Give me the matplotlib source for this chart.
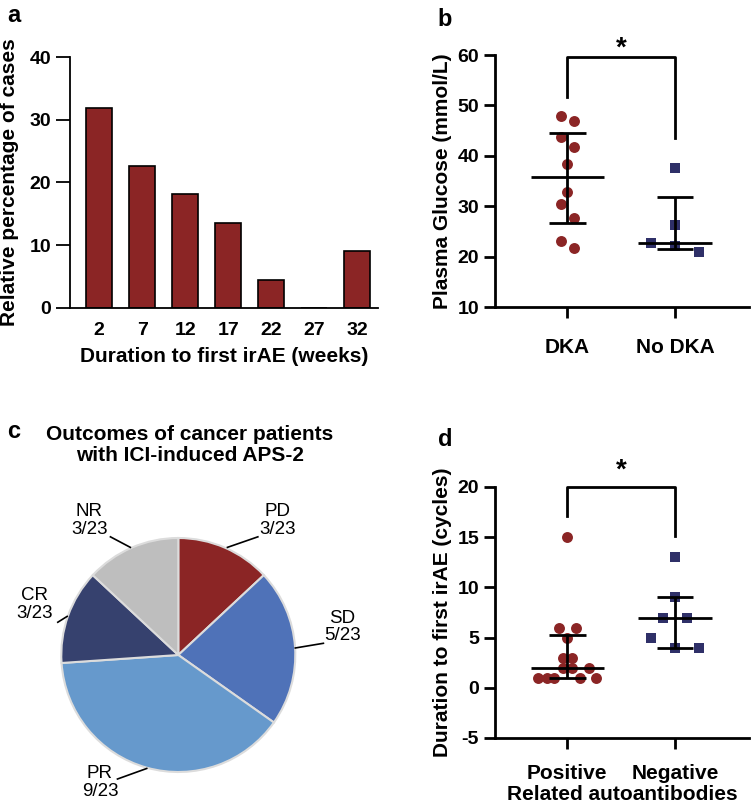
import numpy as np
import matplotlib
matplotlib.use('Agg')
import matplotlib.pyplot as plt

plt.rcParams['font.family'] = ['Liberation Sans', 'DejaVu Sans']
plt.rcParams['font.weight'] = 'bold'
plt.rcParams['axes.unicode_minus'] = False

# ── Data ──────────────────────────────────────────────────
weeks = ['2', '7', '12', '17', '22', '27', '32']
pct_cases = [31.8, 22.7, 18.2, 13.6, 4.5, 0.0, 9.1]

groups_b = ['DKA', 'No DKA']
glucose_dka = [47.9, 46.9, 43.8, 41.8, 38.4, 32.8, 30.4, 27.6, 23.1, 21.8]
jitter_dka = [-0.06, 0.06, -0.06, 0.06, 0.0, 0.0, -0.06, 0.06, -0.06, 0.06]
glucose_nodka = [37.6, 26.2, 22.7, 22.2, 21.0]
jitter_nodka = [0.0, 0.0, -0.22, 0.0, 0.22]
glucose_center = [35.7, 22.7]
glucose_low = [26.6, 21.5]
glucose_high = [44.6, 31.9]

outcomes = ['PD', 'SD', 'PR', 'CR', 'NR']
outcome_n = [3, 5, 9, 3, 3]
outcome_total = 23

groups_d = ['Positive', 'Negative']
cycles_pos = [15, 6, 6, 5, 3, 3, 2, 2, 2, 1, 1, 1, 1, 1]
jitter_pos = [0.0, -0.08, 0.08, 0.0, -0.04, 0.04, -0.04, 0.04, 0.2,
              -0.27, -0.19, -0.12, 0.12, 0.27]
cycles_neg = [13, 9, 7, 7, 5, 4, 4]
jitter_neg = [0.0, 0.0, -0.11, 0.11, -0.22, 0.0, 0.22]
cycles_center = [2, 7]
cycles_low = [1, 4]
cycles_high = [5.25, 9]

RED = '#8b2525'
NAVY = '#2f3068'
pie_colors = ['#8b2525', '#4f72b8', '#6699cc', '#36416e', '#bebebe']

fig = plt.figure(figsize=(7.51, 8.10), dpi=100)
W, H = 751, 810


def px_axes(l, t, r, b):
    return fig.add_axes([l / W, 1 - b / H, (r - l) / W, (b - t) / H])


def style(ax, lw=2):
    for s in ['top', 'right']:
        ax.spines[s].set_visible(False)
    for s in ['left', 'bottom']:
        ax.spines[s].set_linewidth(lw)
    ax.tick_params(width=lw, length=8, labelsize=14)
    for lab in ax.get_xticklabels() + ax.get_yticklabels():
        lab.set_fontweight('bold')


# ── a: bar chart ──────────────────────────────────────────
ax = px_axes(70, 57, 378, 308)
x = np.arange(len(weeks))
ax.bar(x, pct_cases, width=0.6, color=RED, edgecolor='black', linewidth=1.2)
ax.set_xlim(-0.674, 6.48)
ax.set_ylim(0, 40)
ax.set_yticks([0, 10, 20, 30, 40])
ax.set_xticks(x)
ax.set_xticklabels(weeks)
style(ax, lw=1.3)
ax.tick_params(axis='x', length=0, pad=10)
ax.tick_params(axis='y', length=10)
ax.set_xlabel('Duration to first irAE (weeks)', fontsize=15, fontweight='bold', labelpad=6)
ax.set_ylabel('Relative percentage of cases', fontsize=15, fontweight='bold', labelpad=8)


def dot_panel(ax, vals_list, jit_list, centers, lows, highs, markers, colors):
    for i, (vals, jit) in enumerate(zip(vals_list, jit_list)):
        ax.scatter(np.array(jit) + i, vals, s=62, marker=markers[i], color=colors[i],
                   zorder=2, linewidths=0)
    pos = np.arange(len(centers))
    ax.hlines(centers, pos - 0.34, pos + 0.34, color='black', lw=2, zorder=3)
    ax.hlines(lows, pos - 0.17, pos + 0.17, color='black', lw=2, zorder=3)
    ax.hlines(highs, pos - 0.17, pos + 0.17, color='black', lw=2, zorder=3)
    ax.vlines(pos, lows, highs, color='black', lw=2, zorder=3)


# ── b: glucose ────────────────────────────────────────────
ax = px_axes(495, 55, 749, 307)
dot_panel(ax, [glucose_dka, glucose_nodka], [jitter_dka, jitter_nodka],
          glucose_center, glucose_low, glucose_high, ['o', 's'], [RED, NAVY])
ax.set_xlim(-0.671, 1.687)
ax.set_ylim(10, 60)
ax.set_yticks([10, 20, 30, 40, 50, 60])
ax.set_xticks([0, 1])
ax.set_xticklabels(groups_b)
style(ax)
ax.tick_params(axis='x', pad=14, labelsize=15)
ax.set_ylabel('Plasma Glucose (mmol/L)', fontsize=15, fontweight='bold', labelpad=4)
ax.plot([0, 0, 1, 1], [51.7, 59.7, 59.7, 43.6], color='black', lw=2, clip_on=False)
ax.text(0.5, 61.3, '*', ha='center', va='center', fontsize=20, fontweight='bold')

# ── d: cycles ─────────────────────────────────────────────
ax = px_axes(495, 487, 749, 738)
dot_panel(ax, [cycles_pos, cycles_neg], [jitter_pos, jitter_neg],
          cycles_center, cycles_low, cycles_high, ['o', 's'], [RED, NAVY])
ax.set_xlim(-0.671, 1.687)
ax.set_ylim(-5, 20)
ax.set_yticks([-5, 0, 5, 10, 15, 20])
ax.set_xticks([0, 1])
ax.set_xticklabels(groups_d)
style(ax)
ax.tick_params(axis='x', pad=11, labelsize=15)
ax.set_xlabel('Related autoantibodies', fontsize=15, fontweight='bold', labelpad=1)
ax.set_ylabel('Duration to first irAE (cycles)', fontsize=15, fontweight='bold', labelpad=4)
ax.plot([0, 0, 1, 1], [17.1, 20, 20, 15.1], color='black', lw=2, clip_on=False)
ax.text(0.5, 21.6, '*', ha='center', va='center', fontsize=20, fontweight='bold')

# ── c: pie ────────────────────────────────────────────────
R = 117
ax = px_axes(178.3 - 130, 655 - 130, 178.3 + 130, 655 + 130)
ax.pie(outcome_n, colors=pie_colors, startangle=90, counterclock=False, radius=1,
       wedgeprops=dict(edgecolor='#dcdcdc', linewidth=1.5))
ax.set_xlim(-130 / R, 130 / R)
ax.set_ylim(-130 / R, 130 / R)
ax.set_aspect('equal')
ax.axis('off')

label_pos = [(0.85, 1.15), (1.40, 0.24), (-0.67, -1.09), (-1.23, 0.43), (-0.76, 1.15)]
leaders = [[(0.42, 0.92), (0.68, 1.01)], [(1.0, 0.06), (1.24, 0.10)],
           [(-0.27, -0.97), (-0.52, -1.06)], [(-0.95, 0.33), (-1.03, 0.28)],
           [(-0.41, 0.92), (-0.58, 1.01)]]
for name, n, (lx, ly), ld in zip(outcomes, outcome_n, label_pos, leaders):
    ax.text(lx, ly, f'{name}\n{n}/{outcome_total}', ha='center', va='center',
            fontsize=13.5, fontweight='normal', linespacing=1.05, clip_on=False)
    ax.plot([ld[0][0], ld[1][0]], [ld[0][1], ld[1][1]], color='black', lw=1.2,
            clip_on=False)

fig.text(190 / W, 1 - 445 / H, 'Outcomes of cancer patients\nwith ICI-induced APS-2',
         ha='center', va='center', fontsize=15, fontweight='bold', linespacing=1.15)

# ── panel letters ─────────────────────────────────────────
for letter, (px, py) in zip('abcd', [(14, 15), (445, 20), (14, 432), (445, 440)]):
    fig.text(px / W, 1 - py / H, letter, ha='center', va='center', fontsize=17,
             fontweight='bold')

fig.savefig('out.png', dpi=100)
